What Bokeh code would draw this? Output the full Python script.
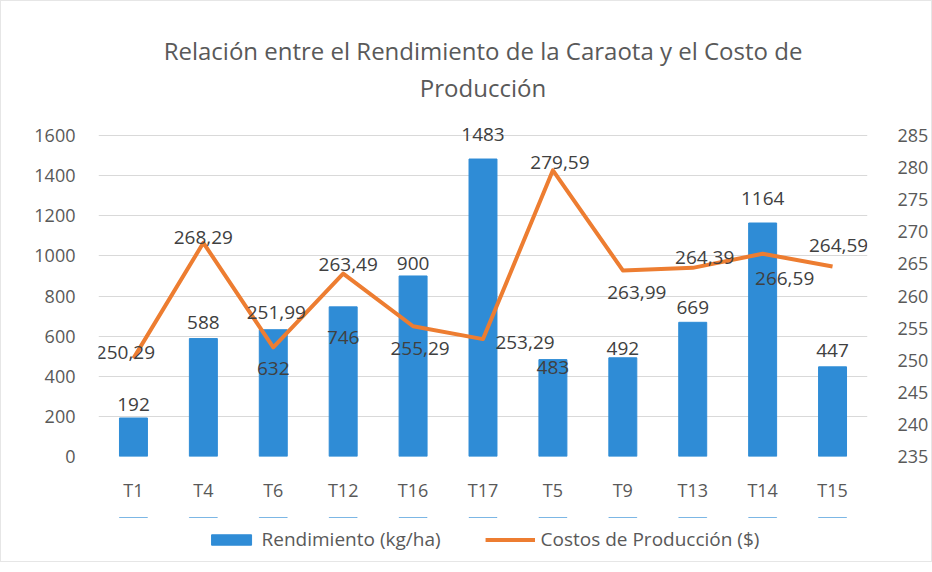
from bokeh.plotting import figure
from bokeh.layouts import column
from bokeh.models import (Range1d, FactorRange, LinearAxis, FixedTicker, Title,
                          Legend, LegendItem, ColumnDataSource)
from bokeh.core.properties import value
from bokeh.embed import file_html
from bokeh.resources import INLINE

categories = ["T1", "T4", "T6", "T12", "T16", "T17", "T5", "T9", "T13", "T14", "T15"]
rendimiento = [192, 588, 632, 746, 900, 1483, 483, 492, 669, 1164, 447]
costos = [250.29, 268.29, 251.99, 263.49, 255.29, 253.29, 279.59, 263.99, 264.39, 266.59, 264.59]
left_ticks = [0, 200, 400, 600, 800, 1000, 1200, 1400, 1600]
right_ticks = [235, 240, 245, 250, 255, 260, 265, 270, 275, 280, 285]

# label placement (screen pixel offsets, layout only)
bar_lab_dy = [-13, -16, 39, 31, -12, -25, 8, -9, -15, -25, -16]
line_lab_dx = [-8, 0, 3, 5, 7, 42, 7, 14, 12, 22, 6]
line_lab_dy = [-6, -5, -35, -9, 22, 3, -8, 22, -10, 25, -21]

FONT = "Open Sans"
GRAY = "#595959"
BLUE = "#2F8CD6"
ORANGE = "#ED7D31"

# ranges carry a little headroom above the top gridline so labels are not clipped
LEFT_TOP = 1700
RIGHT_TOP = 235 + 50 * LEFT_TOP / 1600

p = figure(x_range=FactorRange(*categories), y_range=Range1d(0, LEFT_TOP),
           width=930, height=516, output_backend="svg", toolbar_location=None,
           title=None, min_border_left=97, min_border_right=59,
           min_border_top=114, min_border_bottom=61)
p.extra_y_ranges = {"cost": Range1d(235, RIGHT_TOP)}
p.outline_line_color = None
p.background_fill_color = "white"
p.border_fill_color = "white"

bar_src = ColumnDataSource(dict(cat=categories, val=rendimiento,
                                lab=[str(v) for v in rendimiento], dy=bar_lab_dy))
line_src = ColumnDataSource(dict(cat=categories, val=costos,
                                 lab=[f"{v:.2f}".replace(".", ",") for v in costos],
                                 dx=line_lab_dx, dy=line_lab_dy))

p.vbar(x="cat", top="val", width=0.4, source=bar_src, color=BLUE)
p.line(x="cat", y="val", source=line_src, y_range_name="cost",
       line_color=ORANGE, line_width=4, line_join="round")

p.text(x="cat", y="val", text="lab", source=bar_src, y_offset="dy",
       text_align="center", text_baseline="middle", text_font=value(FONT),
       text_font_size="19px", text_color="#404040")
p.text(x="cat", y="val", text="lab", source=line_src, y_range_name="cost",
       x_offset="dx", y_offset="dy",
       text_align="center", text_baseline="middle", text_font=value(FONT),
       text_font_size="19px", text_color="#404040")

# axes
p.yaxis.ticker = FixedTicker(ticks=left_ticks)
right = LinearAxis(y_range_name="cost", ticker=FixedTicker(ticks=right_ticks))
p.add_layout(right, "right")
for ax in [p.yaxis[0], right, p.xaxis[0]]:
    ax.axis_line_color = None
    ax.major_tick_line_color = None
    ax.minor_tick_line_color = None
    ax.major_label_text_font = FONT
    ax.major_label_text_font_size = "18px"
    ax.major_label_text_color = GRAY
p.yaxis[0].major_label_standoff = 17
right.major_label_standoff = 24
p.xaxis[0].major_label_standoff = 15

p.xgrid.grid_line_color = None
p.ygrid.grid_line_color = "#d9d9d9"
p.ygrid.grid_line_width = 1

def spacer(st):
    return Title(text=" ", text_font_size="1px", standoff=st, text_color="white")

# title (two lines)
t2 = Title(text="Producción", align="center", text_font=FONT, text_font_size="24px",
           text_font_style="normal", text_color=GRAY, standoff=4)
t1 = Title(text="Relación entre el Rendimiento de la Caraota y el Costo de",
           align="center", text_font=FONT, text_font_size="24px",
           text_font_style="normal", text_color=GRAY, standoff=0)
p.add_layout(spacer(7), "above")
p.add_layout(t2, "above")
p.add_layout(t1, "above")

# legend strip below the chart: same data and styles, drawn outside this
# strip's visible y range so only the legend entries show
pl = figure(width=930, height=44, output_backend="svg", toolbar_location=None,
            title=None, x_axis_location=None, y_axis_location=None,
            x_range=p.x_range, y_range=Range1d(-3000, -2000),
            min_border_left=97, min_border_right=59, min_border_top=0,
            min_border_bottom=0)
pl.grid.visible = False
pl.outline_line_color = None
pl.border_fill_color = "white"
pl.background_fill_color = "white"
lg_bar = pl.vbar(x="cat", top="val", width=0.4, source=bar_src, color=BLUE)
lg_line = pl.line(x="cat", y="val", source=line_src, line_color=ORANGE, line_width=4)

legend = Legend(items=[LegendItem(label="Rendimiento (kg/ha)", renderers=[lg_bar]),
                       LegendItem(label="Costos de Producción ($)", renderers=[lg_line])],
                orientation="horizontal", location="center", margin=0,
                label_text_font=FONT, label_text_font_size="19px",
                label_text_color=GRAY, border_line_color=None,
                background_fill_alpha=0, glyph_width=50, glyph_height=13,
                label_standoff=6, spacing=44, padding=3)
pl.add_layout(legend, "center")

layout = column(p, pl, spacing=0)
layout.styles = {"border": "1px solid #e6e6e6"}

open("out.html", "w").write(file_html(layout, INLINE))
